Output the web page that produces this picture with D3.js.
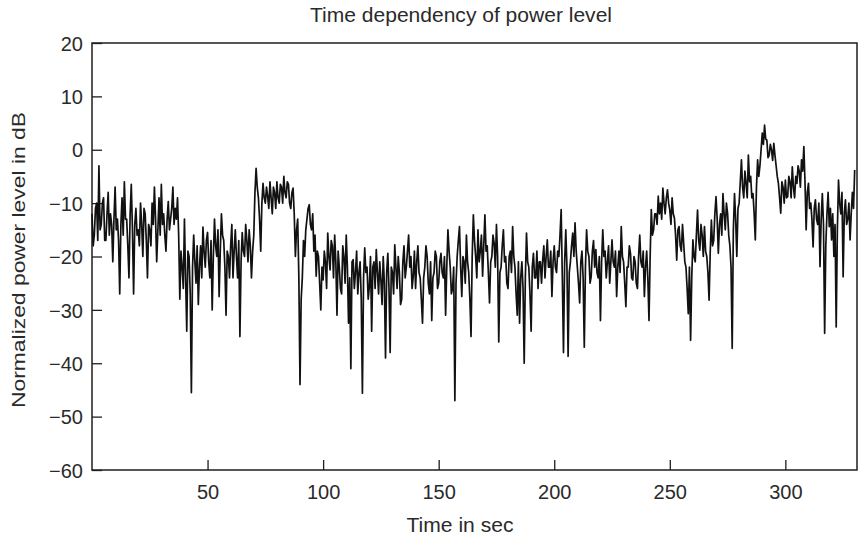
<!DOCTYPE html>
<html>
<head>
<meta charset="utf-8">
<script src="https://cdn.jsdelivr.net/npm/d3@7/dist/d3.min.js"></script>
<style>
html, body { margin: 0; padding: 0; background: #ffffff; }
svg { display: block; }
text { font-family: "Liberation Sans", Arial, Helvetica, sans-serif; fill: #2a2a2a; }
</style>
</head>
<body>
<svg id="chart" width="858" height="540"></svg>
<script>
// ---- data ----
const title = "Time dependency of power level";
const xLabel = "Time in sec";
const yLabel = "Normalized power level in dB";
const xTicks = [50, 100, 150, 200, 250, 300];
const yTicks = [20, 10, 0, -10, -20, -30, -40, -50, -60];
const xDomain = [0, 331];
const yDomain = [-60, 20];
// sample times in seconds (two samples per second, 0 .. 330 s)
const times = d3.range(0, 330.25, 0.5);
// normalized power level in dB, one value per half second (20 values = 10 s per row)
const power = [
  -12, -18, -16, -11, -10, -17, -3, -15, -14, -10, -9, -17, -17, -12, -8, -16, -12, -14, -21, -13,
  -7, -15, -13, -17, -27, -14, -9, -16, -6, -13, -13, -18, -24, -12, -6.5, -15, -27, -14, -11, -16,
  -15, -18, -10, -14, -20, -11, -12, -17, -24, -14, -15, -18, -10, -14, -7, -13, -21, -15, -9, -16,
  -6.5, -14, -12, -16, -19, -13, -9.7, -15, -13, -11, -7, -14, -11, -13, -9, -16, -28, -19, -22, -26,
  -13, -24, -34, -19, -20, -27, -45.5, -22, -16, -21, -25, -18, -29, -22, -18, -24, -14.5, -19, -22, -17,
  -15.5, -21, -24, -17, -30, -20, -13, -18, -20, -15, -27.5, -19, -12, -16, -17, -22, -31, -19, -20, -24,
  -18, -14, -24, -19, -15, -20, -24, -17, -35, -21, -15.5, -19, -20, -14, -17, -21, -15, -18, -24, -19,
  -16, -8, -3.5, -7, -9, -13, -19, -10, -6.3, -9, -10, -7, -8.7, -11, -6, -9, -12, -7, -8, -11,
  -6, -9, -10, -6.5, -7, -10, -5, -8, -9, -6, -6.5, -10, -11, -8, -7.2, -12, -20, -15, -13, -24,
  -44, -28, -24, -17, -20, -15, -13, -11, -10.3, -14, -15, -12, -19, -16, -23.7, -19, -20, -25, -30, -22,
  -24.4, -19, -21, -26, -15.6, -20, -22.5, -17, -18, -24, -16, -21, -31, -19, -22, -26, -27, -18, -20, -25,
  -16, -22, -32.5, -24, -41, -21, -20.6, -26, -23, -19, -27, -23, -21, -28, -45.6, -24, -18.4, -23, -22, -28,
  -25.6, -20, -34, -22, -21, -26, -18.7, -23, -27, -21, -24.4, -29, -20, -25, -39, -23, -19.4, -26, -38, -22,
  -23, -27, -17.8, -22, -26, -20, -23, -29, -28, -21, -18, -24, -22, -19, -16, -22, -20, -26, -23.7, -19,
  -26, -21, -18, -23, -24, -28, -32.5, -24, -22, -18, -20, -25, -27, -21, -32, -24, -23, -19, -20, -26,
  -25, -21, -19.4, -23, -24, -20, -31, -22, -15, -19, -22, -27, -26, -22, -47, -25, -20, -17, -14.4, -22,
  -27.5, -20, -21, -25, -16, -21, -23, -28, -35, -20, -12.2, -17, -20, -24, -15, -21, -19, -16, -23.7, -18,
  -12.2, -19, -18, -23, -28.7, -21, -20, -16, -17.5, -22, -14, -20, -36, -23, -22, -18, -15, -21, -20, -25,
  -26, -20, -19, -23, -14.4, -20, -22, -27, -31, -21, -32.5, -24, -21, -26, -40, -24, -15.6, -21, -22, -27,
  -34, -22, -19.4, -24, -24, -19, -26, -21, -21, -25, -20.6, -18, -24, -20, -16.9, -22, -22, -19, -27.5, -21,
  -18, -22, -23, -19, -20, -16, -11.2, -24, -38, -21, -15, -22, -38.7, -23, -21, -18, -15.6, -20, -13.7, -19,
  -22, -25, -28.7, -21, -19, -24, -37, -22, -15, -19, -20, -25, -23.7, -19, -17, -22, -18.7, -23, -24, -20,
  -32, -21, -15, -20, -19, -24, -21, -18, -25, -21, -16.9, -21, -22, -19, -27.5, -22, -19, -23, -14.4, -20,
  -21, -25, -29.4, -22, -22, -18, -19.4, -24, -24.4, -20, -21, -25, -26, -20, -16, -21, -22, -19, -27.5, -22,
  -19, -24, -32, -20, -11.2, -16, -15, -12, -12, -14, -8.7, -12, -10, -13, -7.2, -10, -12, -9, -7.5, -10,
  -11.3, -14, -9, -12, -12.8, -16, -20.7, -15, -14.4, -18, -19, -14, -17.5, -21, -22, -26, -30.7, -22, -35.7, -24,
  -16.9, -20, -21, -16, -11.3, -17, -18.8, -14, -16, -20, -14.4, -19, -20, -23, -28.2, -19, -13.2, -18, -17, -12,
  -8.8, -13, -19.4, -14, -12, -16, -8.2, -12, -15, -10, -11.9, -16, -18, -22, -37.2, -15, -8.2, -13, -20, -11,
  -10, -6, -1.9, -7, -9, -4, -6.3, -9, -1, -6, -5, -9, -8.2, -12, -16.9, -7, -1.9, -5, -3, 0,
  3.1, 1, 4.6, 2, 1.8, -1.5, -1, 1, 0, -2, 1.2, -1, -3, -5, -6.3, -9, -11.9, -6, -7, -10,
  -5.7, -9, -8.8, -5, -6, -9, -3.2, -7, -9, -5, -6.3, -3, -4, -7, -1.9, -4, 0.6, -6, -15, -8,
  -6.3, -11, -10, -13, -18.2, -11, -9.4, -13, -14, -10, -21.9, -13, -8.2, -14, -34.4, -18, -12, -8, -14.4, -11,
  -16.9, -12, -20, -14, -33.2, -15, -5.7, -10, -12, -8, -23.8, -12, -9.4, -14, -13, -10, -16.9, -12, -8, -11,
  -3.8
];

// ---- layout ----
const svg = d3.select("#chart");
const mLeft = 92, mRight = 857, mTop = 43, mBottom = 470;
const ink = "#1e1e1e";

const x = d3.scaleLinear().domain(xDomain).range([mLeft, mRight]);
const y = d3.scaleLinear().domain(yDomain).range([mBottom, mTop]);

// frame
svg.append("rect")
  .attr("x", mLeft).attr("y", mTop)
  .attr("width", mRight - mLeft).attr("height", mBottom - mTop)
  .attr("fill", "none").attr("stroke", ink).attr("stroke-width", 1.5);

// axes with inward ticks
const xAxis = d3.axisBottom(x).tickValues(xTicks).tickSizeInner(-10).tickSizeOuter(0).tickPadding(15)
  .tickFormat(d3.format("d"));
const yAxis = d3.axisLeft(y).tickValues(yTicks).tickSizeInner(-10).tickSizeOuter(0).tickPadding(9)
  .tickFormat(d => d < 0 ? "\u2212" + Math.abs(d) : String(d));

const gx = svg.append("g").attr("transform", `translate(0,${mBottom})`).call(xAxis);
const gy = svg.append("g").attr("transform", `translate(${mLeft},0)`).call(yAxis);
[gx, gy].forEach(g => {
  g.select(".domain").remove();
  g.selectAll(".tick line").attr("stroke", ink).attr("stroke-width", 1.3);
  g.selectAll(".tick text").attr("fill", "#2a2a2a").style("font-size", "20px")
    .style("font-family", "'Liberation Sans', Arial, sans-serif");
});
gy.selectAll(".tick text").attr("dy", "0.36em");
gx.selectAll(".tick text").attr("dy", "0.71em");

// data line
const line = d3.line()
  .x((d, i) => x(times[i]))
  .y(d => y(d));
svg.append("path")
  .datum(power)
  .attr("d", line)
  .attr("fill", "none")
  .attr("stroke", "#111")
  .attr("stroke-width", 1.7)
  .attr("stroke-linejoin", "round");

// title and labels
svg.append("text")
  .attr("x", 461).attr("y", 22)
  .attr("text-anchor", "middle")
  .style("font-size", "20px")
  .attr("textLength", 302).attr("lengthAdjust", "spacingAndGlyphs")
  .text(title);

svg.append("text")
  .attr("x", 460).attr("y", 532)
  .attr("text-anchor", "middle")
  .style("font-size", "20px")
  .attr("textLength", 107).attr("lengthAdjust", "spacingAndGlyphs")
  .text(xLabel);

svg.append("text")
  .attr("transform", `translate(25,260) rotate(-90)`)
  .attr("text-anchor", "middle")
  .style("font-size", "19px")
  .attr("textLength", 296).attr("lengthAdjust", "spacingAndGlyphs")
  .text(yLabel);
</script>
</body>
</html>
